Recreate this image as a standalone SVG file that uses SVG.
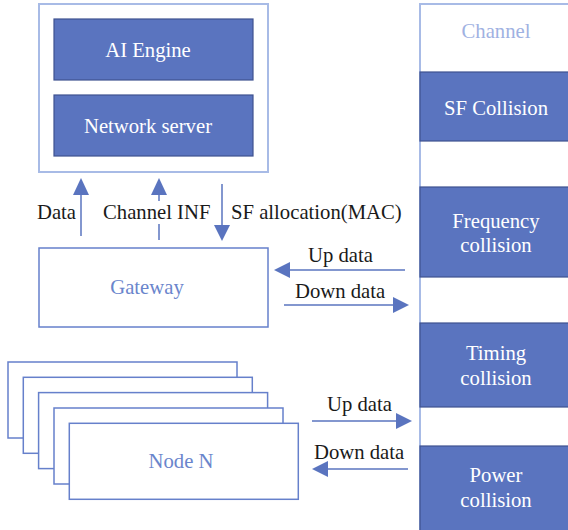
<svg xmlns="http://www.w3.org/2000/svg" width="568" height="530" viewBox="0 0 568 530" font-family="'Liberation Serif', 'DejaVu Serif', serif" font-size="20.7">
<style>
.w{fill:#ffffff;text-anchor:middle;}
.k{fill:#1a1a1a;}
.blue{fill:#5a74bf;stroke:#3e5290;stroke-width:1.2;}
.light{fill:#ffffff;stroke:#a8bbe6;stroke-width:2;}
.frame{fill:#ffffff;stroke:#6680cb;stroke-width:1.5;}
.ln{stroke:#5a74bf;stroke-width:1.5;fill:none;}
.hd{fill:#5a74bf;}
</style>
<rect width="568" height="530" fill="#ffffff"/>
<g id="server">
<rect class="light" x="39" y="4" width="229" height="168"/>
<g id="ai-engine"><rect class="blue" x="54" y="19" width="199" height="61"/><text class="w" x="148" y="57">AI Engine</text></g>
<g id="network-server"><rect class="blue" x="54" y="95" width="199" height="61"/><text class="w" x="148" y="133">Network server</text></g>
</g>
<g id="channel">
<rect class="light" x="420" y="4" width="152" height="530"/>
<text x="496" y="38" style="fill:#9fb2e2;text-anchor:middle">Channel</text>
<g id="sf-collision"><rect class="blue" x="420" y="72" width="152" height="69"/><text class="w" x="496" y="115">SF Collision</text></g>
<g id="frequency-collision"><rect class="blue" x="420" y="187" width="152" height="90"/><text class="w" x="496" y="228">Frequency</text><text class="w" x="496" y="252">collision</text></g>
<g id="timing-collision"><rect class="blue" x="420" y="323" width="152" height="84"/><text class="w" x="496" y="360">Timing</text><text class="w" x="496" y="385">collision</text></g>
<g id="power-collision"><rect class="blue" x="420" y="446" width="152" height="90"/><text class="w" x="496" y="482">Power</text><text class="w" x="496" y="507">collision</text></g>
</g>
<g id="gateway">
<rect class="frame" x="39" y="248" width="229" height="79"/>
<text x="147" y="294" style="fill:#6a85cc;text-anchor:middle">Gateway</text>
</g>
<g id="nodes">
<rect class="frame" x="8" y="362" width="229" height="76"/>
<rect class="frame" x="23.3" y="377.3" width="229" height="76"/>
<rect class="frame" x="38.6" y="392.6" width="229" height="76"/>
<rect class="frame" x="54" y="408" width="229" height="76"/>
<g id="node-n"><rect class="frame" x="69.3" y="423.3" width="229" height="76"/>
<text x="181" y="468" style="fill:#6a85cc;text-anchor:middle">Node N</text></g>
</g>
<g id="connectors">
<line class="ln" x1="81" y1="236" x2="81" y2="192"/><polygon class="hd" points="73,195 89,195 81,178"/>
<line class="ln" x1="159" y1="240" x2="159" y2="224"/><line class="ln" x1="159" y1="201" x2="159" y2="192"/><polygon class="hd" points="151,195 167,195 159,178"/>
<line class="ln" x1="222" y1="184" x2="222" y2="228"/><polygon class="hd" points="214,225 230,225 222,241"/>
<line class="ln" x1="405" y1="270" x2="288" y2="270"/><polygon class="hd" points="290,262 290,278 274,270"/>
<line class="ln" x1="284" y1="305" x2="396" y2="305"/><polygon class="hd" points="393,297 393,313 409,305"/>
<line class="ln" x1="312" y1="421" x2="400" y2="421"/><polygon class="hd" points="396,413 396,429 412,421"/>
<line class="ln" x1="408" y1="469" x2="326" y2="469"/><polygon class="hd" points="328,461 328,477 312,469"/>
</g>
<g id="labels">
<text class="k" x="76" y="219" text-anchor="end">Data</text>
<text class="k" x="103" y="219">Channel INF</text>
<text class="k" x="231" y="219">SF allocation(MAC)</text>
<text class="k" x="308" y="262">Up data</text>
<text class="k" x="295" y="298">Down data</text>
<text class="k" x="327" y="411">Up data</text>
<text class="k" x="314" y="459">Down data</text>
</g>
</svg>
